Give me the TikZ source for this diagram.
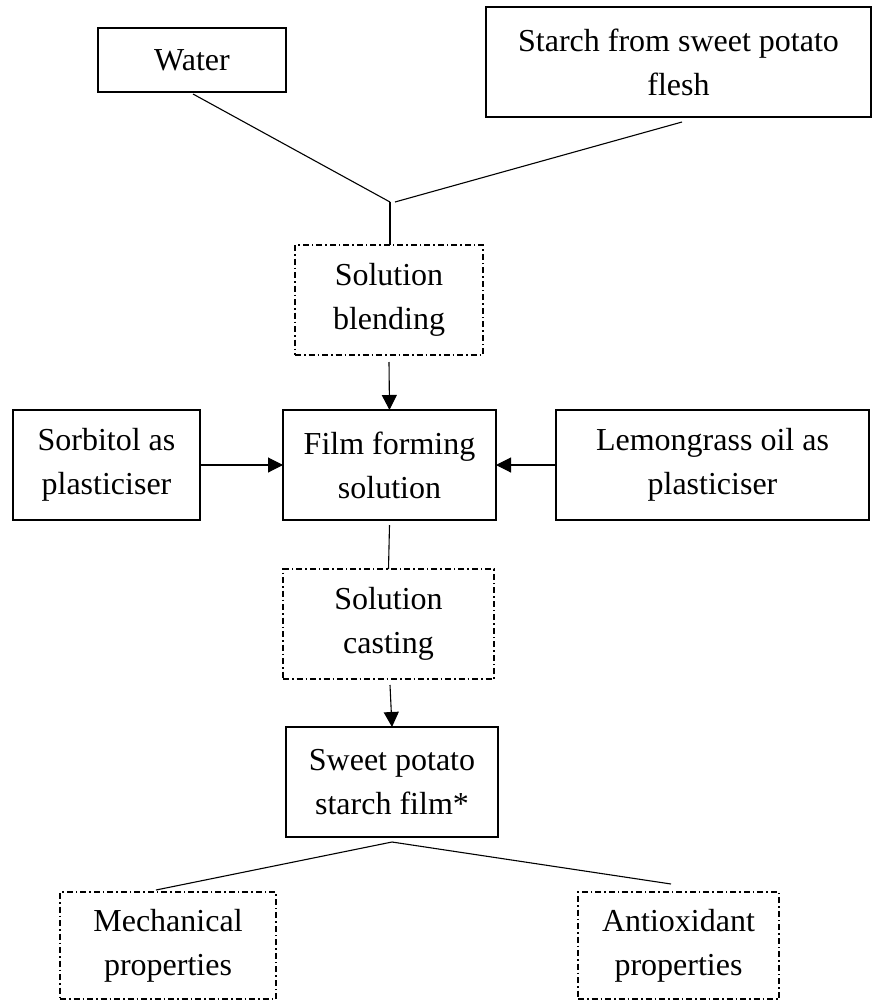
\documentclass[tikz,border=0pt]{standalone}
\usepackage{fontspec}
\setmainfont{Liberation Serif}
\usetikzlibrary{arrows.meta,calc}
\begin{document}
\begin{tikzpicture}[x=1pt,y=-1pt,
  every node/.style={font=\fontsize{32}{44}\selectfont, align=center, inner sep=0pt, outer sep=0pt},
  solidbox/.style={draw, line width=1.4pt},
  dashbox/.style={draw, line width=1.2pt, dash pattern=on 6pt off 3pt on 1.5pt off 3pt},
  link/.style={line width=1.1pt},
  arr/.style={line width=1.1pt, -{Triangle[length=15pt,width=15pt]}}]
\useasboundingbox (0,0) rectangle (872,1001);
% boxes
\node[solidbox, minimum width=188pt, minimum height=64pt] (water) at (192,60) {Water};
\node[solidbox, minimum width=385pt, minimum height=110pt] (starch) at (678.5,62) {Starch from sweet potato\\flesh};
\node[dashbox, minimum width=188pt, minimum height=110pt] (blend) at (389,300) {Solution\\blending};
\node[solidbox, minimum width=187pt, minimum height=110pt] (sorb) at (106.5,465) {Sorbitol as\\plasticiser};
\node[solidbox, minimum width=213pt, minimum height=110pt] (film) at (389.5,465) {Film forming\\solution};
\node[solidbox, minimum width=313pt, minimum height=110pt] (lemon) at (712.5,465) {Lemongrass oil as\\plasticiser};
\node[dashbox, minimum width=211pt, minimum height=110pt] (cast) at (388.5,624) {Solution\\casting};
\node[solidbox, minimum width=212pt, minimum height=110pt] (sweet) at (392,782) {Sweet potato\\starch film*};
\node[dashbox, minimum width=216pt, minimum height=107pt] (mech) at (168,945.5) {Mechanical\\properties};
\node[dashbox, minimum width=201pt, minimum height=107pt] (anti) at (678.5,945.5) {Antioxidant\\properties};
% junction
\coordinate (j1) at ($(blend.north)+(1,-43)$);
\coordinate (j2) at ($(blend.north)+(6,-43)$);
\draw[link] ($(water.south)+(1,2)$) -- (j1);
\draw[link] ($(starch.south)+(3.5,5)$) -- (j2);
\draw[link] (j1) -- (blend.north -| j1);
% arrows
\draw[arr] ($(blend.south)+(0,7)$) -- (film.north);
\draw[arr] (sorb.east) -- (film.west);
\draw[arr] (lemon.west) -- (film.east);
\draw[link] ($(film.south)+(0,5)$) -- (cast.north);
\draw[arr] ($(cast.south)+(1.5,6)$) -- (sweet.north);
\coordinate (b) at ($(sweet.south)+(0,5)$);
\draw[link] (b) -- ($(mech.north)+(-12,-2)$);
\draw[link] (b) -- ($(anti.north)+(-7.5,-8)$);
\end{tikzpicture}
\end{document}
